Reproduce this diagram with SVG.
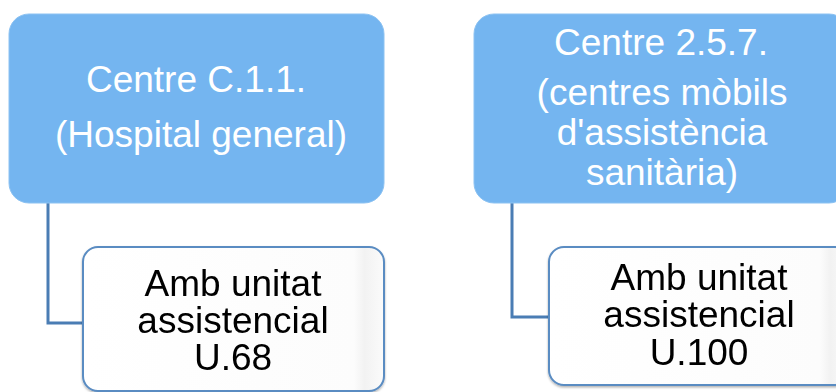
<svg xmlns="http://www.w3.org/2000/svg" width="836" height="392" viewBox="0 0 836 392">
<defs>
<linearGradient id="childFill" x1="0" y1="0" x2="1" y2="0">
<stop offset="0" stop-color="#ffffff"/>
<stop offset="0.9" stop-color="#fcfcfc"/>
<stop offset="0.935" stop-color="#f2f2f2"/>
<stop offset="1" stop-color="#fbfbfb"/>
</linearGradient>
<filter id="sh" x="-10%" y="-10%" width="120%" height="130%">
<feDropShadow dx="0" dy="1.5" stdDeviation="1.2" flood-color="#000" flood-opacity="0.3"/>
</filter>
</defs>
<style>
.parent{fill:#74b5f0;stroke:#8cc2f2;stroke-width:1}
.ptext{font-family:"Liberation Sans",Arial,sans-serif;font-size:37px;fill:#ffffff;text-anchor:middle}
.child{fill:url(#childFill);stroke:#5a8cc2;stroke-width:2}
.ctext{font-family:"Liberation Sans",Arial,sans-serif;font-size:37px;fill:#000000;text-anchor:middle}
.conn{fill:none;stroke:#4a7db4;stroke-width:3}
</style>
<g id="connectors">
<path class="conn" d="M48,203 V323 H84"/>
<path class="conn" d="M512,203 V317 H550"/>
</g>
<g id="node-c11">
<rect class="parent" x="9" y="14" width="375" height="189" rx="20"/>
<text class="ptext" x="196" y="92">Centre C.1.1.</text>
<text class="ptext" x="201" y="147">(Hospital general)</text>
</g>
<g id="node-257">
<rect class="parent" x="474" y="14" width="375" height="189" rx="20"/>
<text class="ptext" x="661" y="55">Centre 2.5.7.</text>
<text class="ptext" x="662" y="105">(centres mòbils</text>
<text class="ptext" x="662" y="145">d'assistència</text>
<text class="ptext" x="662" y="185">sanitària)</text>
</g>
<g id="node-u68" filter="url(#sh)">
<rect class="child" x="83" y="247" width="301" height="144" rx="15"/>
<text class="ctext" x="233" y="296">Amb unitat</text>
<text class="ctext" x="233" y="333">assistencial</text>
<text class="ctext" x="233" y="370">U.68</text>
</g>
<g id="node-u100" filter="url(#sh)">
<rect class="child" x="549" y="247" width="301" height="138" rx="15"/>
<text class="ctext" x="699" y="290">Amb unitat</text>
<text class="ctext" x="699" y="327">assistencial</text>
<text class="ctext" x="699" y="365">U.100</text>
</g>
</svg>
